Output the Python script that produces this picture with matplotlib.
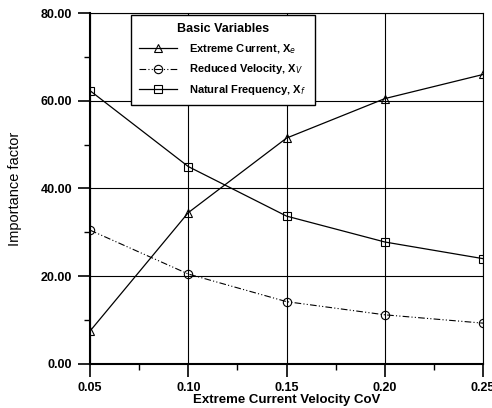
import numpy as np
import matplotlib
matplotlib.use('Agg')
import matplotlib.pyplot as plt

plt.rcParams['font.family'] = ['Liberation Sans', 'DejaVu Sans']

# importance factors vs. coefficient of variation of extreme current velocity
cov = [0.05, 0.10, 0.15, 0.20, 0.25]
extreme_current = [7.5, 34.5, 51.5, 60.5, 66.0]
reduced_velocity = [30.5, 20.5, 14.2, 11.2, 9.3]
natural_freq = [62.3, 45.0, 33.7, 27.8, 24.0]

xticks = [0.05, 0.10, 0.15, 0.20, 0.25]
yticks = [0, 20, 40, 60, 80]

fig = plt.figure(figsize=(4.92, 4.08), dpi=100)
ax = fig.add_axes([0.183, 0.108, 0.799, 0.860])

ax.plot(cov, extreme_current, '-', color='k', lw=0.9, marker='^', ms=6,
        mfc='none', mec='k', mew=0.8, label=r'Extreme Current, X$_e$')
ax.plot(cov, reduced_velocity, color='k', lw=0.8, ls=(0, (6, 2, 1, 2, 1, 2)),
        marker='o', ms=6, mfc='none', mec='k', mew=0.8,
        label=r'Reduced Velocity, X$_V$')
ax.plot(cov, natural_freq, '-', color='k', lw=0.9, marker='s', ms=6,
        mfc='none', mec='k', mew=0.8, label=r'Natural Frequency, X$_f$')

ax.set_xlim(0.05, 0.25)
ax.set_ylim(0, 80)
ax.set_xticks(xticks)
ax.set_xticks([0.075, 0.125, 0.175, 0.225], minor=True)
ax.set_yticks(yticks)
ax.set_yticks([10, 30, 50, 70], minor=True)
ax.set_xticklabels(['%.2f' % v for v in xticks], fontweight='bold', fontsize=9)
ax.set_yticklabels(['%.2f' % v for v in yticks], fontweight='bold', fontsize=9)
ax.tick_params(which='major', length=9, width=1.2, direction='out', color='k', pad=4)
ax.tick_params(which='minor', length=4, width=1.0, direction='out', color='k')
for side in ['top', 'right']:
  ax.spines[side].set_linewidth(0.8)
for side in ['left', 'bottom']:
  ax.spines[side].set_linewidth(1.5)
ax.grid(which='major', color='k', lw=0.8)
ax.set_axisbelow(True)

ax.set_xlabel('Extreme Current Velocity CoV', fontweight='bold', fontsize=9.5,
              labelpad=0)
ax.set_ylabel('Importance factor', fontsize=10.5)
ax.yaxis.set_label_coords(-0.172, 0.5)

leg = ax.legend(loc='upper left', bbox_to_anchor=(0.104, 0.994), title='Basic Variables',
                fontsize=8, title_fontproperties={'weight': 'bold', 'size': 9},
                frameon=True, fancybox=False, edgecolor='k', framealpha=1,
                borderpad=0.75, labelspacing=0.6, handlelength=3.4, handletextpad=1.1,
                borderaxespad=0)
leg.get_frame().set_linewidth(1.0)
for t in leg.get_texts():
  t.set_fontweight('bold')

fig.savefig('out.png', dpi=100)
